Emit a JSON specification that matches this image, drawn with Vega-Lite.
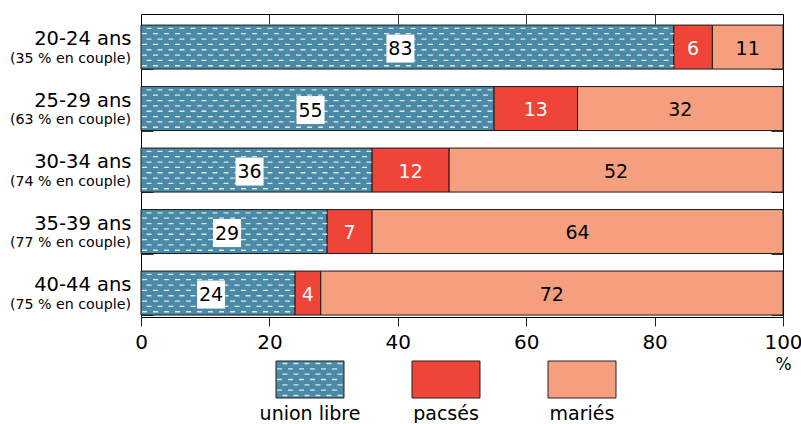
{
  "$schema": "https://vega.github.io/schema/vega-lite/v6.json",
  "padding": {"left": 9, "top": 13, "right": 0, "bottom": 0},
  "background": "white",
  "bounds": "flush",
  "spacing": 44,
  "config": {
    "font": "DejaVu Sans",
    "axis": {"labelFont": "DejaVu Sans", "titleFont": "DejaVu Sans", "labelColor": "#000", "titleColor": "#000", "grid": false},
    "text": {"font": "DejaVu Sans"},
    "view": {"stroke": "#000", "strokeWidth": 1}
  },
  "vconcat": [
    {
      "width": 642,
      "height": 303,
      "data": {"values": [
        {"age": "20-24 ans", "couple": 35, "type": "union libre", "value": 83},
        {"age": "20-24 ans", "couple": 35, "type": "pacsés", "value": 6},
        {"age": "20-24 ans", "couple": 35, "type": "mariés", "value": 11},
        {"age": "25-29 ans", "couple": 63, "type": "union libre", "value": 55},
        {"age": "25-29 ans", "couple": 63, "type": "pacsés", "value": 13},
        {"age": "25-29 ans", "couple": 63, "type": "mariés", "value": 32},
        {"age": "30-34 ans", "couple": 74, "type": "union libre", "value": 36},
        {"age": "30-34 ans", "couple": 74, "type": "pacsés", "value": 12},
        {"age": "30-34 ans", "couple": 74, "type": "mariés", "value": 52},
        {"age": "35-39 ans", "couple": 77, "type": "union libre", "value": 29},
        {"age": "35-39 ans", "couple": 77, "type": "pacsés", "value": 7},
        {"age": "35-39 ans", "couple": 77, "type": "mariés", "value": 64},
        {"age": "40-44 ans", "couple": 75, "type": "union libre", "value": 24},
        {"age": "40-44 ans", "couple": 75, "type": "pacsés", "value": 4},
        {"age": "40-44 ans", "couple": 75, "type": "mariés", "value": 72}
      ]},
      "transform": [
        {"calculate": "indexof(['union libre','pacsés','mariés'], datum.type)", "as": "ord"},
        {"stack": "value", "groupby": ["age"], "sort": [{"field": "ord", "order": "ascending"}], "as": ["x0", "x1"]},
        {"calculate": "(datum.x0 + datum.x1) / 2", "as": "mid"},
        {"calculate": "'(' + datum.couple + ' % en couple)'", "as": "coupleText"}
      ],
      "resolve": {"axis": {"x": "independent", "y": "independent"}},
      "layer": [
        {
          "layer": [
            {
              "mark": {"type": "bar", "stroke": "#1a1a1a", "strokeWidth": 1},
              "encoding": {
                "x": {"field": "x0", "type": "quantitative", "scale": {"domain": [0, 100], "nice": false},
                  "axis": {"orient": "bottom", "values": [0, 20, 40, 60, 80, 100], "tickSize": 9, "tickColor": "#222", "domain": true, "domainColor": "#000", "labelFontSize": 20, "labelPadding": 6, "labelFlush": false, "title": "%", "titleFontSize": 17, "titleFontWeight": "normal", "titleAnchor": "end", "titleAlign": "center", "titlePadding": 4}},
                "x2": {"field": "x1"},
                "y": {"field": "age", "type": "nominal", "scale": {"paddingInner": 0.285, "paddingOuter": 0.106, "align": 0.85},
                  "axis": {"orient": "left", "title": null, "ticks": false, "domain": false, "labelFontSize": 19.5, "labelOffset": -8, "labelPadding": 10}},
                "color": {"field": "type", "type": "nominal", "scale": {"domain": ["union libre", "pacsés", "mariés"], "range": ["#4b8aa6", "#ef4539", "#f69f7e"]}, "legend": null}
              }
            },
            {"transform": [{"filter": "datum.type === 'union libre'"}], "mark": {"type": "rule", "yOffset": -18.7, "color": "#dce8ee", "strokeWidth": 1.3, "strokeDash": [5, 6], "strokeDashOffset": 5.5}, "encoding": {"x": {"field": "x0", "type": "quantitative"}, "x2": {"field": "x1"}, "y": {"field": "age", "type": "nominal"}}},
            {"transform": [{"filter": "datum.type === 'union libre'"}], "mark": {"type": "rule", "yOffset": -13.35, "color": "#dce8ee", "strokeWidth": 1.3, "strokeDash": [5, 6], "strokeDashOffset": 10}, "encoding": {"x": {"field": "x0", "type": "quantitative"}, "x2": {"field": "x1"}, "y": {"field": "age", "type": "nominal"}}},
            {"transform": [{"filter": "datum.type === 'union libre'"}], "mark": {"type": "rule", "yOffset": -8, "color": "#dce8ee", "strokeWidth": 1.3, "strokeDash": [5, 6], "strokeDashOffset": 5.5}, "encoding": {"x": {"field": "x0", "type": "quantitative"}, "x2": {"field": "x1"}, "y": {"field": "age", "type": "nominal"}}},
            {"transform": [{"filter": "datum.type === 'union libre'"}], "mark": {"type": "rule", "yOffset": -2.67, "color": "#dce8ee", "strokeWidth": 1.3, "strokeDash": [5, 6], "strokeDashOffset": 10}, "encoding": {"x": {"field": "x0", "type": "quantitative"}, "x2": {"field": "x1"}, "y": {"field": "age", "type": "nominal"}}},
            {"transform": [{"filter": "datum.type === 'union libre'"}], "mark": {"type": "rule", "yOffset": 2.67, "color": "#dce8ee", "strokeWidth": 1.3, "strokeDash": [5, 6], "strokeDashOffset": 5.5}, "encoding": {"x": {"field": "x0", "type": "quantitative"}, "x2": {"field": "x1"}, "y": {"field": "age", "type": "nominal"}}},
            {"transform": [{"filter": "datum.type === 'union libre'"}], "mark": {"type": "rule", "yOffset": 8, "color": "#dce8ee", "strokeWidth": 1.3, "strokeDash": [5, 6], "strokeDashOffset": 10}, "encoding": {"x": {"field": "x0", "type": "quantitative"}, "x2": {"field": "x1"}, "y": {"field": "age", "type": "nominal"}}},
            {"transform": [{"filter": "datum.type === 'union libre'"}], "mark": {"type": "rule", "yOffset": 13.35, "color": "#dce8ee", "strokeWidth": 1.3, "strokeDash": [5, 6], "strokeDashOffset": 5.5}, "encoding": {"x": {"field": "x0", "type": "quantitative"}, "x2": {"field": "x1"}, "y": {"field": "age", "type": "nominal"}}},
            {"transform": [{"filter": "datum.type === 'union libre'"}], "mark": {"type": "rule", "yOffset": 18.7, "color": "#dce8ee", "strokeWidth": 1.3, "strokeDash": [5, 6], "strokeDashOffset": 10}, "encoding": {"x": {"field": "x0", "type": "quantitative"}, "x2": {"field": "x1"}, "y": {"field": "age", "type": "nominal"}}},
            {
              "transform": [{"filter": "datum.type === 'union libre'"}],
              "mark": {"type": "tick", "orient": "vertical", "thickness": 28, "size": 28, "color": "#ffffff", "opacity": 1, "xOffset": -7, "yOffset": 1.5},
              "encoding": {"x": {"field": "mid", "type": "quantitative"}, "y": {"field": "age", "type": "nominal"}}
            },
            {
              "transform": [{"filter": "datum.type === 'union libre'"}],
              "mark": {"type": "text", "fontSize": 19, "dx": -7, "dy": 2, "baseline": "middle", "color": "#000"},
              "encoding": {"x": {"field": "mid", "type": "quantitative"}, "y": {"field": "age", "type": "nominal"}, "text": {"field": "value", "type": "quantitative"}}
            },
            {
              "transform": [{"filter": "datum.type !== 'union libre'"}],
              "mark": {"type": "text", "fontSize": 19, "dy": 1.5, "baseline": "middle"},
              "encoding": {
                "x": {"field": "mid", "type": "quantitative"},
                "y": {"field": "age", "type": "nominal"},
                "text": {"field": "value", "type": "quantitative"},
                "color": {"condition": {"test": "datum.type === 'pacsés'", "value": "#ffffff"}, "value": "#000000"}
              }
            },
            {
              "transform": [{"filter": "datum.type === 'union libre'"}],
              "mark": {"type": "text", "fontSize": 14.2, "align": "right", "baseline": "middle", "dx": -10, "dy": 11.5, "color": "#000"},
              "encoding": {"x": {"field": "x0", "type": "quantitative"}, "y": {"field": "age", "type": "nominal"}, "text": {"field": "coupleText", "type": "nominal"}}
            }
          ]
        },
        {
          "transform": [{"filter": "datum.type === 'mariés'"}],
          "mark": {"type": "tick", "opacity": 0},
          "encoding": {
            "x": {"field": "x1", "type": "quantitative", "axis": {"orient": "top", "values": [20, 40, 60, 80], "labels": false, "domain": false, "tickSize": -10, "tickColor": "#333", "title": null}},
            "y": {"field": "age", "type": "nominal", "axis": {"orient": "left", "labels": false, "domain": false, "tickSize": -12, "tickBand": "extent", "tickColor": "#333", "title": null}}
          }
        },
        {
          "transform": [{"filter": "datum.type === 'mariés'"}],
          "mark": {"type": "tick", "opacity": 0},
          "encoding": {
            "x": {"field": "x1", "type": "quantitative", "axis": null},
            "y": {"field": "age", "type": "nominal", "axis": {"orient": "right", "labels": false, "domain": false, "tickSize": -12, "tickBand": "extent", "tickColor": "#333", "title": null}}
          }
        }
      ]
    },
    {
      "width": 612,
      "height": 37,
      "view": {"stroke": null},
      "data": {"values": [{"type": "union libre"}, {"type": "pacsés"}, {"type": "mariés"}]},
      "encoding": {
        "x": {"field": "type", "type": "nominal", "sort": ["union libre", "pacsés", "mariés"], "scale": {"paddingInner": 0.5, "paddingOuter": 1, "align": 0.4963},
          "axis": {"title": null, "domain": false, "ticks": false, "labelFontSize": 19, "labelPadding": 6, "labelAngle": 0}}
      },
      "layer": [
        {
          "mark": {"type": "bar", "stroke": "#222", "strokeWidth": 1},
          "encoding": {"color": {"field": "type", "type": "nominal", "scale": {"domain": ["union libre", "pacsés", "mariés"], "range": ["#4b8aa6", "#ef4539", "#f69f7e"]}, "legend": null}}
        },
        {
          "transform": [{"filter": "datum.type === 'union libre'"}],
          "mark": {"type": "point", "filled": false, "opacity": 1, "stroke": "#dce8ee", "strokeWidth": 1.3, "size": 4624,
            "shape": "M-0.81,-0.4706h0.147m0.1765,0h0.147m0.1765,0h0.147m0.1765,0h0.147m0.1765,0h0.147m0.1765,0h0.147M-0.97,-0.3137h0.147m0.1765,0h0.147m0.1765,0h0.147m0.1765,0h0.147m0.1765,0h0.147m0.1765,0h0.147M-0.81,-0.1569h0.147m0.1765,0h0.147m0.1765,0h0.147m0.1765,0h0.147m0.1765,0h0.147m0.1765,0h0.147M-0.97,0h0.147m0.1765,0h0.147m0.1765,0h0.147m0.1765,0h0.147m0.1765,0h0.147m0.1765,0h0.147M-0.81,0.1569h0.147m0.1765,0h0.147m0.1765,0h0.147m0.1765,0h0.147m0.1765,0h0.147m0.1765,0h0.147M-0.97,0.3137h0.147m0.1765,0h0.147m0.1765,0h0.147m0.1765,0h0.147m0.1765,0h0.147m0.1765,0h0.147M-0.81,0.4706h0.147m0.1765,0h0.147m0.1765,0h0.147m0.1765,0h0.147m0.1765,0h0.147m0.1765,0h0.147"}
        }
      ]
    }
  ]
}
